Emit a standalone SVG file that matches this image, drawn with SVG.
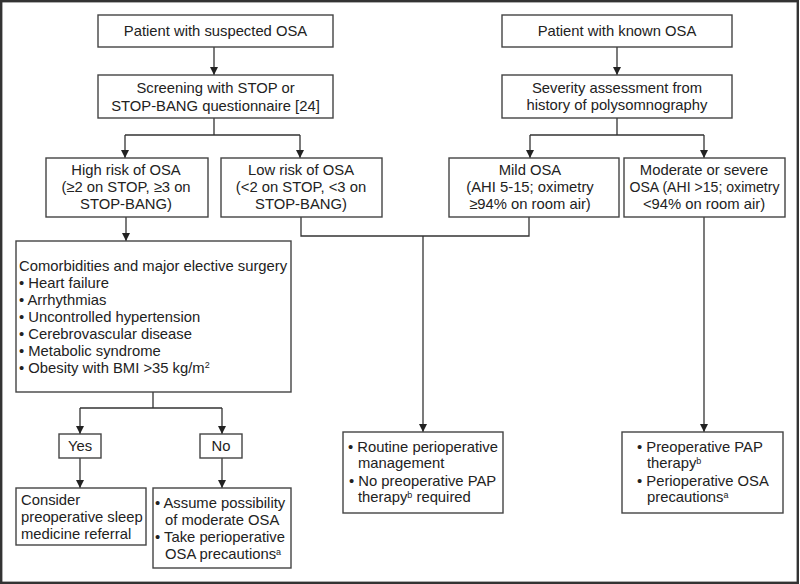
<svg xmlns="http://www.w3.org/2000/svg" width="800" height="584" viewBox="0 0 800 584">
<defs>
<marker id="arr" viewBox="0 0 10 10" refX="10" refY="5" markerWidth="8" markerHeight="9" markerUnits="userSpaceOnUse" orient="auto">
<path d="M0,0 L10,5 L0,10 z" fill="#222"/>
</marker>
<style>
.box{fill:#fff;stroke:#444;stroke-width:1.4}
.ln{fill:none;stroke:#333;stroke-width:1.3}
.ar{fill:none;stroke:#333;stroke-width:1.3;marker-end:url(#arr)}
text{font-family:"Liberation Sans",Arial,sans-serif;font-size:14.8px;fill:#222}
.c{text-anchor:middle}
.sup{font-size:9px}
</style>
</defs>
<rect x="1.2" y="1.2" width="796.6" height="581.6" fill="#fff" stroke="#333" stroke-width="2.4"/>

<g id="connectors">
<path class="ar" d="M214,47 V75"/>
<path class="ln" d="M214,118 V135 M125,135 H300"/>
<path class="ar" d="M125,135 V158"/>
<path class="ar" d="M300,135 V158"/>
<path class="ar" d="M617,47 V75"/>
<path class="ln" d="M617,118 V135 M530,135 H704"/>
<path class="ar" d="M530,135 V158"/>
<path class="ar" d="M704,135 V158"/>
<path class="ar" d="M126,217 V241"/>
<path class="ln" d="M301,217 V236 H529 V217"/>
<path class="ar" d="M423,236 V432"/>
<path class="ar" d="M704,217 V432"/>
<path class="ln" d="M153,392 V408 M80,408 H222"/>
<path class="ar" d="M80,408 V434"/>
<path class="ar" d="M222,408 V434"/>
<path class="ar" d="M80,458 V488"/>
<path class="ar" d="M222,458 V488"/>
</g>

<g id="suspected">
<rect class="box" x="98" y="15" width="235" height="32"/>
<text class="c" x="215.5" y="36">Patient with suspected OSA</text>
</g>
<g id="screening">
<rect class="box" x="98" y="75" width="235" height="43"/>
<text class="c" x="215.5" y="93">Screening with STOP or</text>
<text class="c" x="215.5" y="111">STOP-BANG questionnaire [24]</text>
</g>
<g id="known">
<rect class="box" x="502" y="15" width="230" height="32"/>
<text class="c" x="617" y="36">Patient with known OSA</text>
</g>
<g id="severity">
<rect class="box" x="502" y="75" width="230" height="43"/>
<text class="c" x="617" y="93">Severity assessment from</text>
<text class="c" x="617" y="110">history of polysomnography</text>
</g>
<g id="highrisk">
<rect class="box" x="46" y="158" width="162" height="59"/>
<text class="c" x="126" y="175">High risk of OSA</text>
<text class="c" x="126" y="192">(≥2 on STOP, ≥3 on</text>
<text class="c" x="126" y="209">STOP-BANG)</text>
</g>
<g id="lowrisk">
<rect class="box" x="221" y="158" width="161" height="59"/>
<text class="c" x="301" y="175">Low risk of OSA</text>
<text class="c" x="301" y="192">(&lt;2 on STOP, &lt;3 on</text>
<text class="c" x="301" y="209">STOP-BANG)</text>
</g>
<g id="mild">
<rect class="box" x="449" y="158" width="170" height="59"/>
<text class="c" x="530" y="175">Mild OSA</text>
<text class="c" x="530" y="192">(AHI 5-15; oximetry</text>
<text class="c" x="530" y="209">≥94% on room air)</text>
</g>
<g id="moderate">
<rect class="box" x="624" y="158" width="161" height="59"/>
<text class="c" x="704" y="175">Moderate or severe</text>
<text class="c" x="704.5" y="192" textLength="150" lengthAdjust="spacingAndGlyphs">OSA (AHI &gt;15; oximetry</text>
<text class="c" x="704" y="209">&lt;94% on room air)</text>
</g>
<g id="comorbidities">
<rect class="box" x="16" y="241" width="275" height="151"/>
<text x="19" y="270.7">Comorbidities and major elective surgery</text>
<text x="19" y="287.5">• Heart failure</text>
<text x="19" y="304.5">• Arrhythmias</text>
<text x="19" y="321.7">• Uncontrolled hypertension</text>
<text x="19" y="339">• Cerebrovascular disease</text>
<text x="19" y="356">• Metabolic syndrome</text>
<text x="19" y="373.3">• Obesity with BMI &gt;35 kg/m<tspan class="sup" dy="-5">2</tspan></text>
</g>
<g id="yes">
<rect class="box" x="59" y="434" width="42" height="24"/>
<text class="c" x="80" y="450.5">Yes</text>
</g>
<g id="no">
<rect class="box" x="200" y="434" width="42" height="24"/>
<text class="c" x="221" y="450.5">No</text>
</g>
<g id="consider">
<rect class="box" x="16" y="488" width="130" height="57"/>
<text x="21" y="505">Consider</text>
<text x="21" y="522.3">preoperative sleep</text>
<text x="21" y="539.3">medicine referral</text>
</g>
<g id="assume">
<rect class="box" x="153" y="488" width="138" height="80"/>
<text x="155" y="508.3">• Assume possibility</text>
<text x="165" y="525">of moderate OSA</text>
<text x="155" y="542.3">• Take perioperative</text>
<text x="165" y="559.3">OSA precautions<tspan class="sup" dy="-4">a</tspan></text>
</g>
<g id="routine">
<rect class="box" x="343" y="432" width="160" height="81"/>
<text x="348" y="452.3">• Routine perioperative</text>
<text x="358" y="468.3">management</text>
<text x="349" y="485.7">•  No preoperative PAP</text>
<text x="358" y="501.7">therapy<tspan class="sup" dy="-4">b</tspan><tspan dy="4"> required</tspan></text>
</g>
<g id="preop">
<rect class="box" x="622" y="432" width="161" height="81"/>
<text x="637" y="452.3">• Preoperative PAP</text>
<text x="647" y="468.3">therapy<tspan class="sup" dy="-4">b</tspan></text>
<text x="637" y="485.7">• Perioperative OSA</text>
<text x="647" y="501.7">precautions<tspan class="sup" dy="-4">a</tspan></text>
</g>
</svg>
